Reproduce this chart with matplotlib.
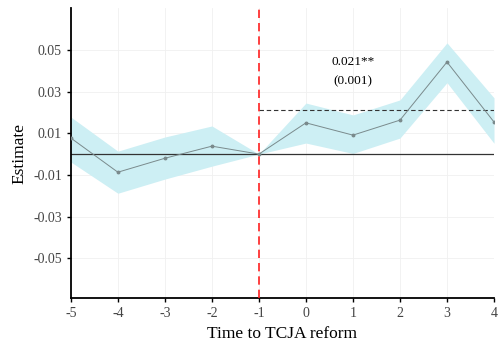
import matplotlib.pyplot as plt

plt.rcParams['font.family'] = ['Liberation Serif', 'DejaVu Serif']

periods = [-5, -4, -3, -2, -1, 0, 1, 2, 3, 4]
estimate = [0.0077, -0.0087, -0.0020, 0.0038, 0.0, 0.0150, 0.0091, 0.0163, 0.0442, 0.0154]
ci_low = [-0.0038, -0.0188, -0.0120, -0.0058, 0.0, 0.0053, 0.0003, 0.0077, 0.0343, 0.0052]
ci_high = [0.0178, 0.0014, 0.0082, 0.0135, 0.0, 0.0245, 0.0188, 0.0260, 0.0534, 0.0270]
avg_post = 0.021
avg_label = "0.021**"
avg_se = "(0.001)"
yticks = [-0.05, -0.03, -0.01, 0.01, 0.03, 0.05]

fig, ax = plt.subplots(figsize=(4.99, 3.42), dpi=100)
fig.subplots_adjust(left=0.142, right=0.99, top=0.977, bottom=0.128)

ax.fill_between(periods, ci_low, ci_high, color='#cdeff4', lw=0, zorder=1)
ax.plot(periods, estimate, color='#7a8a8c', lw=0.7, marker='o', ms=1.8, zorder=3)
ax.axhline(0, color='#333333', lw=0.9, zorder=2)
ax.hlines(avg_post, -1, 4, colors='#333333', linestyles=(0, (4, 2.5)), lw=0.8, zorder=2)
ax.axvline(-1, color='#ff2020', ls=(0, (5, 3)), lw=1.2, zorder=4)

ax.text(1, 0.0442, avg_label, ha='center', va='center', fontsize=9.5)
ax.text(1, 0.0350, avg_se, ha='center', va='center', fontsize=9.5)

ax.set_xlim(-5, 4)
ax.set_ylim(-0.0692, 0.0702)
ax.set_xticks(periods)
ax.set_xticklabels([str(p) for p in periods])
ax.set_yticks(yticks)
ax.set_yticklabels([f"{t:.2f}" for t in yticks])
ax.grid(True, color='#f0f0f0', lw=0.6)
ax.set_axisbelow(True)

for s in ['top', 'right']:
    ax.spines[s].set_visible(False)
for s in ['left', 'bottom']:
    ax.spines[s].set_linewidth(1.3)
ax.tick_params(labelsize=10, colors='black', labelcolor='#444444', length=3, width=1)
ax.set_xlabel("Time to TCJA reform", fontsize=12.5)
ax.set_ylabel("Estimate", fontsize=12.5)

fig.savefig('out.png', dpi=100)
